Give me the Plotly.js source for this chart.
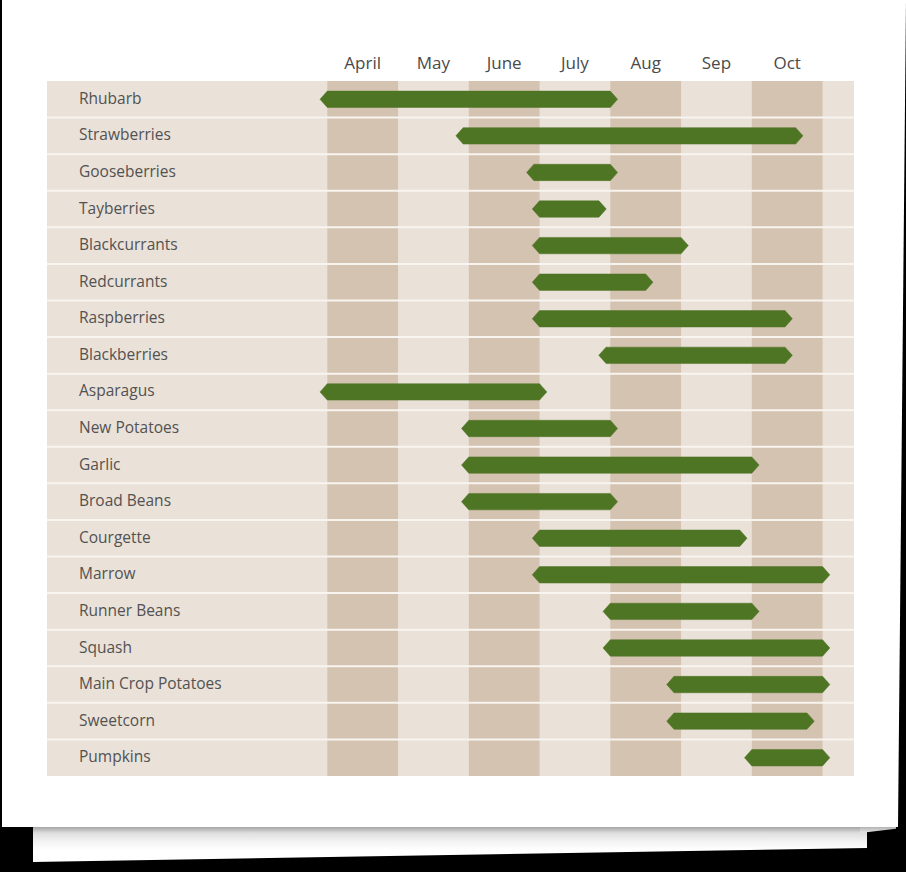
<!DOCTYPE html>
<html>
<head>
<meta charset="utf-8">
<script src="https://cdn.plot.ly/plotly-3.0.1.min.js"></script>
<style>
  html, body { margin: 0; padding: 0; background: #000; width: 906px; height: 872px; overflow: hidden; }
  #sheet2 { position: absolute; left: 33px; top: 826px; width: 834px; height: 36px;
    background: linear-gradient(to bottom, #9a9a9a 0px, #dedede 7px, #f4f4f4 16px, #ffffff 24px);
    clip-path: polygon(0 0, 100% 0, 100% 22px, 0 36px); }
  #sheet3 { position: absolute; left: 860px; top: 826px; width: 36px; height: 7px;
    background: linear-gradient(to bottom, #aaa, #e8e8e8);
    clip-path: polygon(0 0, 100% 0, 100% 40%, 0 100%); }
  #paper { position: absolute; left: 2px; top: 0; width: 904px; height: 827px; background: #fff;
    clip-path: polygon(0 0, 100% 0, 896px 100%, 0 100%); }
  #chart { position: absolute; left: 0; top: 0; width: 906px; height: 872px; }
</style>
</head>
<body>
<div id="sheet2"></div>
<div id="sheet3"></div>
<div id="paper"></div>
<div id="chart"></div>
<script>
// ---- data ----
const crops = ["Rhubarb","Strawberries","Gooseberries","Tayberries","Blackcurrants","Redcurrants",
  "Raspberries","Blackberries","Asparagus","New Potatoes","Garlic","Broad Beans","Courgette",
  "Marrow","Runner Beans","Squash","Main Crop Potatoes","Sweetcorn","Pumpkins"];
// season start / end in month units (April = 4 .. 5, Oct = 10 .. 11)
const seasonStart = [4.0, 5.92, 6.92, 7.0, 7.0, 7.0, 7.0, 7.94, 4.0, 6.0, 6.0, 6.0, 7.0, 7.0, 8.0, 8.0, 8.9, 8.9, 10.0];
const seasonEnd   = [8.0, 10.62, 8.0, 7.84, 9.0, 8.5, 10.47, 10.47, 7.0, 8.0, 10.0, 8.0, 9.83, 11.0, 10.0, 11.0, 11.0, 10.78, 11.0];
const monthStart  = [4, 5, 6, 7, 8, 9, 10];
const monthLabels = ["April","May","June","July","Aug","Sep","Oct"];

// ---- geometry / style ----
const L = 47, R = 854, T = 81, B = 776, W = 906, H = 872;
const monthPx = 70.75, aprilPx = 327.3;
const xMin = 4 - (aprilPx - L) / monthPx;
const xMax = 4 + (R - aprilPx) / monthPx;
const tip = 7.3 / monthPx;          // arrow point length (data units)
const half = 8.2 / ((B - T) / crops.length); // bar half height (row units)

const dark = "#d5c3b1", light = "#eae1d8", green = "#4e7524";

const shapes = [];
monthStart.forEach((m, i) => {
  if (i % 2 === 0) shapes.push({type: "rect", xref: "x", yref: "paper", x0: m, x1: m + 1, y0: 0, y1: 1,
    fillcolor: dark, line: {width: 0}, layer: "below"});
});
for (let i = 0; i < crops.length - 1; i++) {
  shapes.push({type: "line", xref: "paper", yref: "y", x0: 0, x1: 1, y0: i + 0.5, y1: i + 0.5,
    line: {color: "#f8f4f0", width: 2}, layer: "below"});
}

const px = [], py = [];
crops.forEach((c, i) => {
  const s = seasonStart[i], e = seasonEnd[i];
  px.push(s, e, e + tip, e, s, s - tip, s, null);
  py.push(i - half, i - half, i, i + half, i + half, i, i - half, null);
});

const bars = {type: "scatter", mode: "lines", x: px, y: py, fill: "toself", fillcolor: green,
  line: {color: green, width: 0.5}, hoverinfo: "skip", showlegend: false};

const annotations = crops.map((c, i) => ({xref: "paper", yref: "y", x: (77 - L) / (R - L), y: i - 0.04,
  xanchor: "left", yanchor: "middle", text: c, showarrow: false,
  font: {family: "Open Sans", size: 15.5, color: "#525252"}}));

const layout = {
  width: W, height: H,
  margin: {l: L, r: W - R, t: T, b: H - B, pad: 0},
  paper_bgcolor: "rgba(0,0,0,0)", plot_bgcolor: light,
  showlegend: false,
  xaxis: {range: [xMin, xMax], side: "top", tickvals: monthStart.map(m => m + 0.5), ticktext: monthLabels,
    showgrid: false, zeroline: false, showline: false, ticks: "", ticklabelstandoff: 8,
    tickfont: {family: "Open Sans", size: 17, color: "#4a4a4a"}, fixedrange: true},
  yaxis: {range: [crops.length - 0.5, -0.5], showgrid: false, zeroline: false, showline: false,
    showticklabels: false, ticks: "", fixedrange: true},
  shapes: shapes,
  annotations: annotations
};

Plotly.newPlot("chart", [bars], layout, {displayModeBar: false, staticPlot: true});
</script>
</body>
</html>
